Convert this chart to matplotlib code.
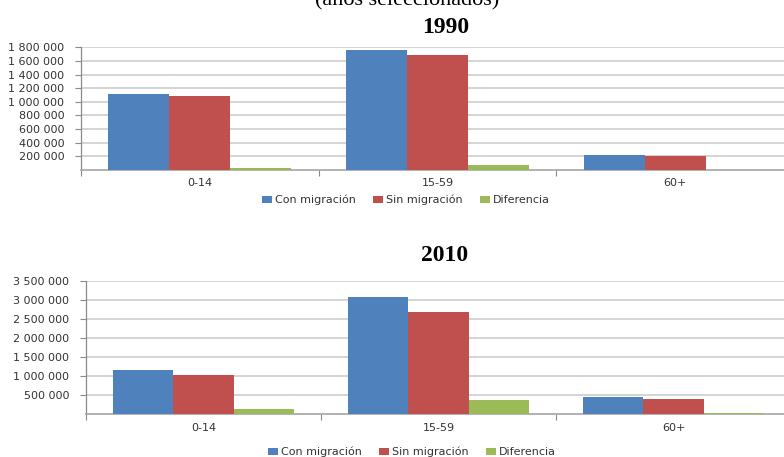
import matplotlib
matplotlib.use("Agg")
import matplotlib.pyplot as plt
import numpy as np

# Population by broad age group, with and without migration
age_groups = ["0-14", "15-59", "60+"]
series_names = ["Con migración", "Sin migración", "Diferencia"]
series_colors = ["#4F81BD", "#C0504D", "#9BBB59"]

con_migracion_1990 = [1109000, 1757000, 222000]
sin_migracion_1990 = [1084000, 1690000, 212000]
diferencia_1990 = [25000, 67000, 3000]

con_migracion_2010 = [1155000, 3065000, 445000]
sin_migracion_2010 = [1025000, 2690000, 400000]
diferencia_2010 = [130000, 375000, 25000]

yticks_1990 = [200000, 400000, 600000, 800000, 1000000, 1200000, 1400000, 1600000, 1800000]
yticks_2010 = [500000, 1000000, 1500000, 2000000, 2500000, 3000000, 3500000]


def fmt(v):
    return f"{v:,}".replace(",", " ")


W, H = 784, 457
fig = plt.figure(figsize=(W / 100, H / 100), dpi=100)

tick_font = dict(family="DejaVu Sans", size=8, color="#333333")
serif = ["Liberation Serif", "DejaVu Serif"]


def panel(rect, data, yticks, ymax):
    ax = fig.add_axes(rect)
    bw = 0.257
    n = len(age_groups)
    x = np.arange(n) + 0.5
    handles = []
    for k, (vals, col, name) in enumerate(zip(data, series_colors, series_names)):
        h = ax.bar(x + (k - 1) * bw, vals, width=bw, color=col, label=name,
                   linewidth=0, zorder=3)
        handles.append(h)
    ax.set_xlim(0, n)
    ax.set_ylim(0, ymax)
    ax.set_yticks(yticks)
    ax.set_yticklabels([fmt(v) for v in yticks], fontdict=tick_font)
    ax.yaxis.grid(True, color="#d4d4d4", linewidth=1.4, zorder=0)
    ax.set_axisbelow(True)
    ax.set_xticks(np.arange(n + 1))
    ax.set_xticklabels([])
    ax.set_xticks(x, minor=True)
    ax.set_xticklabels(age_groups, minor=True, fontdict=tick_font)
    ax.tick_params(axis="x", which="minor", length=0, pad=6)
    ax.tick_params(axis="x", which="major", length=4, color="#8a8a8a", width=0.8)
    ax.tick_params(axis="y", length=4, color="#8a8a8a", width=0.8, pad=8)
    for s in ("top", "right"):
        ax.spines[s].set_visible(False)
    ax.spines["left"].set_color("#8a8a8a")
    ax.spines["bottom"].set_color("#a6a6a6")
    ax.spines["left"].set_linewidth(0.9)
    ax.spines["bottom"].set_linewidth(1.2)
    return ax, handles


def fy(px):
    return 1 - px / H


# 1990 panel
top_left, top_right = 81, 794
ax1, h1 = panel([top_left / W, fy(170), (top_right - top_left) / W, (170 - 47.3) / H],
                [con_migracion_1990, sin_migracion_1990, diferencia_1990],
                yticks_1990, 1800000)

# 2010 panel
bot_left, bot_right = 86, 791
ax2, h2 = panel([bot_left / W, fy(414.3), (bot_right - bot_left) / W, (414.3 - 280.7) / H],
                [con_migracion_2010, sin_migracion_2010, diferencia_2010],
                yticks_2010, 3500000)

leg_kw = dict(ncol=3, frameon=False, loc="center",
              prop=dict(family="DejaVu Sans", size=8),
              handlelength=0.9, handleheight=0.55, handletextpad=0.3,
              columnspacing=1.5, labelcolor="#333333")
fig.legend(h1, series_names, bbox_to_anchor=(406 / W, fy(200)), **leg_kw)
fig.legend(h2, series_names, bbox_to_anchor=(412 / W, fy(452)), **leg_kw)

fig.text(407 / W, fy(5), "(años seleccionados)", ha="center", va="baseline",
         family=serif, size=16)
fig.text(446 / W, fy(33), "1990", ha="center", va="baseline",
         family=serif, size=17, weight="bold")
fig.text(445 / W, fy(261), "2010", ha="center", va="baseline",
         family=serif, size=17, weight="bold")

fig.savefig("out.png", dpi=100)
